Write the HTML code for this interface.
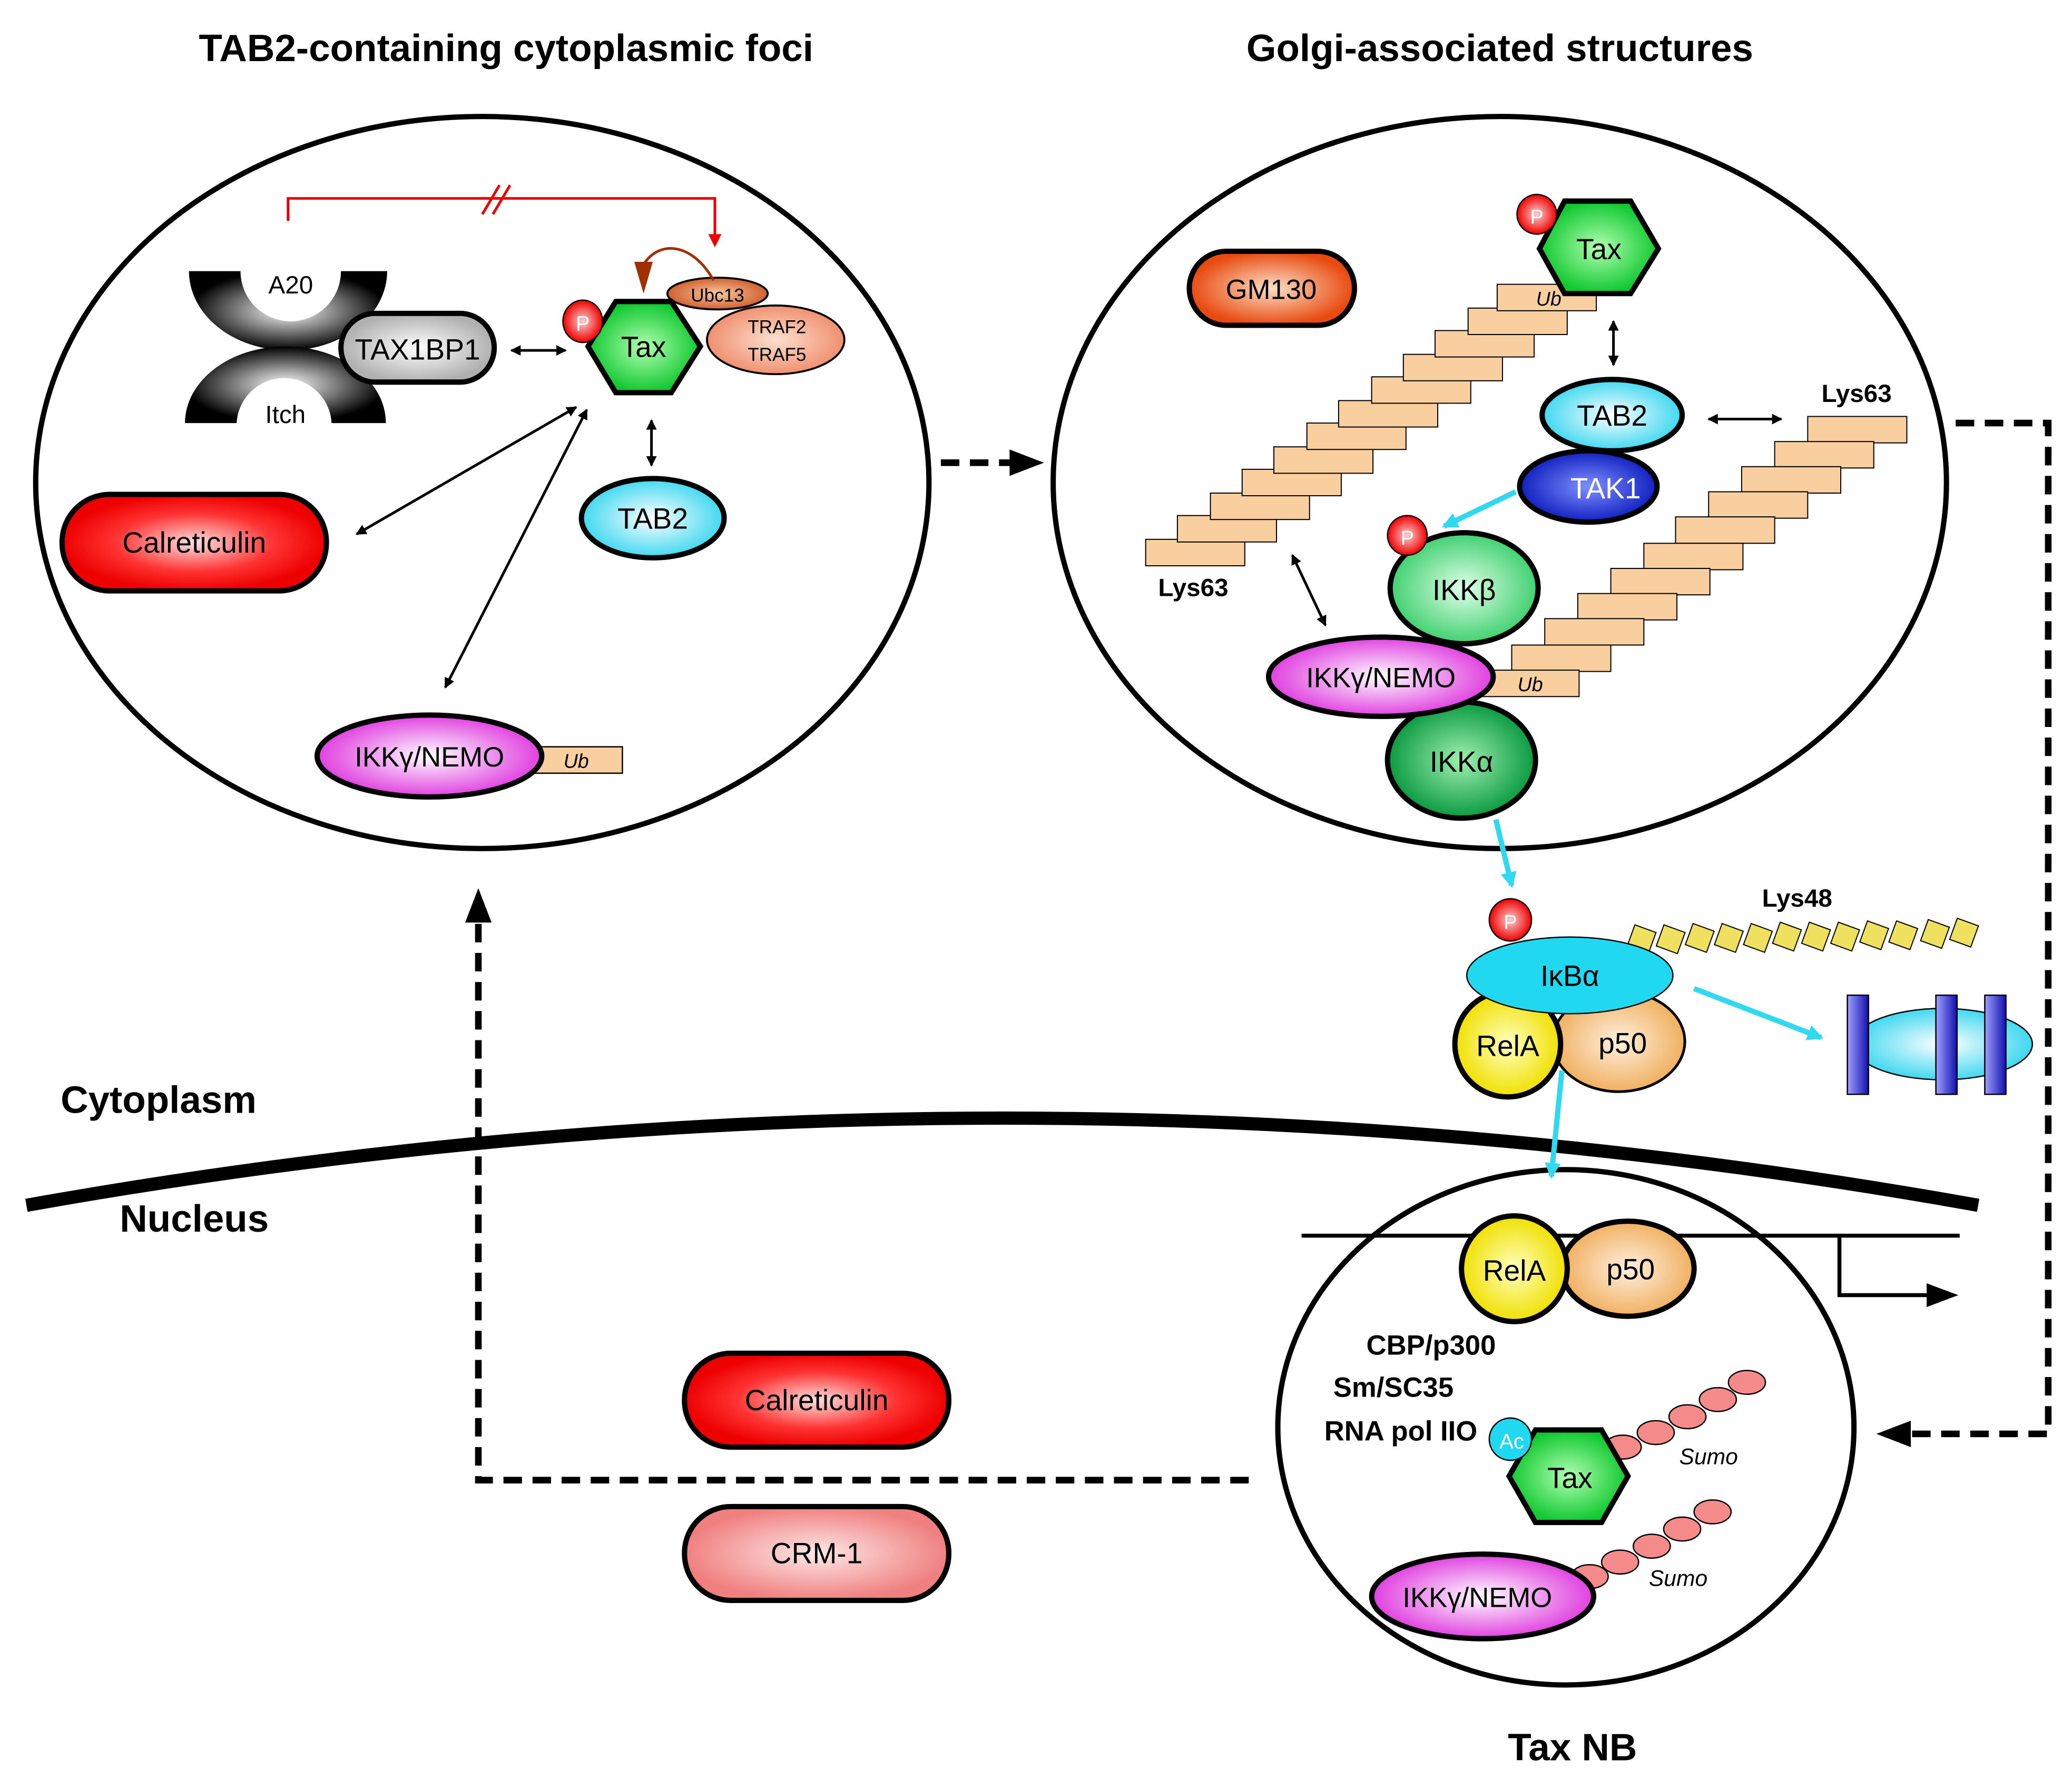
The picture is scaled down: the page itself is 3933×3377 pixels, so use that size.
<!DOCTYPE html>
<html><head><meta charset="utf-8"><style>html,body{margin:0;padding:0;background:#fff}svg{display:block}</style></head><body>
<svg width="3933" height="3377" viewBox="0 0 1568 1346" xmlns="http://www.w3.org/2000/svg" font-family="Liberation Sans, sans-serif">
<defs>
<radialGradient id="gRed"><stop offset="0" stop-color="#fde0e0"/><stop offset="0.6" stop-color="#f33"/><stop offset="1" stop-color="#e00"/></radialGradient>
<radialGradient id="gPink"><stop offset="0" stop-color="#fde8e8"/><stop offset="1" stop-color="#f08080"/></radialGradient>
<radialGradient id="gOr"><stop offset="0" stop-color="#fde0c8"/><stop offset="1" stop-color="#e84a10"/></radialGradient>
<radialGradient id="gGreen"><stop offset="0" stop-color="#b0ffb0"/><stop offset="1" stop-color="#10c830"/></radialGradient>
<radialGradient id="gLGreen"><stop offset="0" stop-color="#e0ffe8"/><stop offset="1" stop-color="#40d070"/></radialGradient>
<radialGradient id="gDGreen"><stop offset="0" stop-color="#a0f0b0"/><stop offset="1" stop-color="#0a9a40"/></radialGradient>
<radialGradient id="gCyan"><stop offset="0" stop-color="#fff"/><stop offset="1" stop-color="#40d8f0"/></radialGradient>
<radialGradient id="gBlue"><stop offset="0" stop-color="#8090ff"/><stop offset="1" stop-color="#1020c0"/></radialGradient>
<radialGradient id="gMag"><stop offset="0" stop-color="#fff"/><stop offset="1" stop-color="#e040e0"/></radialGradient>
<radialGradient id="gGray"><stop offset="0" stop-color="#fff"/><stop offset="1" stop-color="#b0b0b0"/></radialGradient>
<radialGradient id="gSal"><stop offset="0" stop-color="#fde0d0"/><stop offset="1" stop-color="#f09070"/></radialGradient>
<radialGradient id="gUbc"><stop offset="0" stop-color="#f8c8a0"/><stop offset="1" stop-color="#d06030"/></radialGradient>
<radialGradient id="gYel"><stop offset="0" stop-color="#ffffc0"/><stop offset="1" stop-color="#f0e000"/></radialGradient>
<radialGradient id="gP50"><stop offset="0" stop-color="#fff0e0"/><stop offset="1" stop-color="#f0b060"/></radialGradient>
<radialGradient id="gPh"><stop offset="0" stop-color="#ffd0d0"/><stop offset="1" stop-color="#e00"/></radialGradient>
<radialGradient id="gBW" cx="0.5" cy="0.5"><stop offset="0" stop-color="#fff"/><stop offset="1" stop-color="#000"/></radialGradient>
<linearGradient id="gBar" x1="0" x2="1"><stop offset="0" stop-color="#a0a0ff"/><stop offset="1" stop-color="#1010b0"/></linearGradient>
<marker id="ah" markerWidth="8" markerHeight="8" refX="7" refY="4" orient="auto-start-reverse" markerUnits="userSpaceOnUse"><path d="M0,0 L8,4 L0,8 Z" fill="#000"/></marker>
<marker id="ahc" markerWidth="12" markerHeight="12" refX="10" refY="6" orient="auto" markerUnits="userSpaceOnUse"><path d="M0,0 L12,6 L0,12 Z" fill="#30d8f0"/></marker>
<marker id="ahr" markerWidth="10" markerHeight="10" refX="8" refY="5" orient="auto" markerUnits="userSpaceOnUse"><path d="M0,0 L10,5 L0,10 Z" fill="#e00"/></marker>
</defs>

<g font-weight="bold" font-size="29" text-anchor="middle" fill="#000">
<text x="383" y="46">TAB2-containing cytoplasmic foci</text>
<text x="1135" y="46">Golgi-associated structures</text>
<text x="120" y="842">Cytoplasm</text>
<text x="147" y="932">Nucleus</text>
<text x="1190" y="1332">Tax NB</text>
</g>

<ellipse cx="365" cy="365" rx="338" ry="277" fill="none" stroke="#000" stroke-width="4"/>
<ellipse cx="1135" cy="365" rx="338" ry="277" fill="none" stroke="#000" stroke-width="4"/>
<path d="M20,912 Q760,780 1497,912" fill="none" stroke="#000" stroke-width="10"/>
<ellipse cx="1185" cy="1080" rx="218" ry="195" fill="none" stroke="#000" stroke-width="4"/>

<g stroke="#000" stroke-width="5" fill="none" stroke-dasharray="14,8">
<path d="M712,350 L770,350"/>
<path d="M1480,320 L1550,320 L1550,1085 L1440,1085"/>
<path d="M945,1120 L362,1120 L362,690"/>
</g>
<path d="M790,350 L764,340 L764,360Z"/>
<path d="M1420,1085 L1446,1075 L1446,1095Z"/>
<path d="M362,672 L352,698 L372,698Z"/>

<!-- LEFT ELLIPSE -->
<path d="M218,205 L218,150 L541,150 L541,185" fill="none" stroke="#e00" stroke-width="2" marker-end="url(#ahr)"/>
<path d="M365,162 L378,140 M373,162 L386,140" stroke="#e00" stroke-width="2"/>
<path d="M143,205 L293,205 A75,60 0 0 1 143,205 Z" fill="url(#gBW)"/>
<circle cx="220" cy="205" r="38" fill="#fff"/>
<rect x="140" y="190" width="160" height="15" fill="#fff"/>
<path d="M140,320 L292,320 A76,58 0 0 0 140,320 Z" fill="url(#gBW)"/>
<circle cx="215" cy="322" r="36" fill="#fff"/>
<rect x="130" y="322" width="170" height="15" fill="#fff"/>
<text x="220" y="222" font-size="19" text-anchor="middle">A20</text>
<text x="216" y="320" font-size="19" text-anchor="middle">Itch</text>
<rect x="258" y="237" width="116" height="52" rx="26" fill="url(#gGray)" stroke="#000" stroke-width="4"/>
<text x="316" y="272" font-size="22" text-anchor="middle">TAX1BP1</text>
<line x1="387" y1="265" x2="428" y2="265" stroke="#000" stroke-width="2" marker-start="url(#ah)" marker-end="url(#ah)"/>
<ellipse cx="587" cy="257" rx="52" ry="26" fill="url(#gSal)" stroke="#000" stroke-width="1.5"/>
<text x="588" y="252" font-size="14" text-anchor="middle">TRAF2</text>
<text x="588" y="273" font-size="14" text-anchor="middle">TRAF5</text>
<ellipse cx="543" cy="222" rx="38" ry="12" fill="url(#gUbc)" stroke="#000" stroke-width="1.5"/>
<text x="543" y="228" font-size="14" text-anchor="middle">Ubc13</text>
<path d="M540,212 C525,185 500,180 487,200" fill="none" stroke="#a03000" stroke-width="2"/>
<path d="M480,198 L494,198 L487,222Z" fill="#a03000"/>
<polygon points="445,262 466,228 508,228 530,262 508,297 466,297" fill="url(#gGreen)" stroke="#000" stroke-width="4"/>
<text x="487" y="270" font-size="22" text-anchor="middle">Tax</text>
<ellipse cx="441" cy="243" rx="15" ry="16" fill="url(#gPh)" stroke="#000" stroke-width="1"/>
<text x="441" y="250" font-size="16" fill="#fff" text-anchor="middle">P</text>
<line x1="493" y1="318" x2="493" y2="352" stroke="#000" stroke-width="2" marker-start="url(#ah)" marker-end="url(#ah)"/>
<ellipse cx="494" cy="392" rx="54" ry="30" fill="url(#gCyan)" stroke="#000" stroke-width="4"/>
<text x="494" y="400" font-size="22" text-anchor="middle">TAB2</text>
<line x1="270" y1="404" x2="436" y2="308" stroke="#000" stroke-width="2" marker-start="url(#ah)" marker-end="url(#ah)"/>
<line x1="337" y1="520" x2="444" y2="310" stroke="#000" stroke-width="2" marker-start="url(#ah)" marker-end="url(#ah)"/>
<rect x="47" y="374" width="200" height="73" rx="36" fill="url(#gRed)" stroke="#000" stroke-width="4"/>
<text x="147" y="418" font-size="22" text-anchor="middle">Calreticulin</text>
<rect x="397" y="565" width="74" height="20" fill="#f9cfa0" stroke="#000" stroke-width="1"/>
<text x="436" y="581" font-size="15" font-style="italic" text-anchor="middle">Ub</text>
<ellipse cx="325" cy="572" rx="85" ry="31" fill="url(#gMag)" stroke="#000" stroke-width="4"/>
<text x="325" y="580" font-size="21" text-anchor="middle">IKKγ/NEMO</text>

<!-- RIGHT ELLIPSE -->
<rect x="900" y="190" width="125" height="56" rx="28" fill="url(#gOr)" stroke="#000" stroke-width="4"/>
<text x="962" y="226" font-size="21" text-anchor="middle">GM130</text>
<g fill="#f9cfa0" stroke="#000" stroke-width="0.8">
<rect x="867" y="408" width="75" height="20"/><rect x="891" y="390" width="75" height="20"/><rect x="916" y="373" width="75" height="20"/><rect x="940" y="355" width="75" height="20"/><rect x="964" y="338" width="75" height="20"/><rect x="989" y="320" width="75" height="20"/><rect x="1013" y="303" width="75" height="20"/><rect x="1038" y="285" width="75" height="20"/><rect x="1062" y="268" width="75" height="20"/><rect x="1086" y="250" width="75" height="20"/><rect x="1111" y="233" width="75" height="20"/><rect x="1133" y="215" width="75" height="20"/>
<rect x="1368" y="315" width="75" height="20"/><rect x="1343" y="334" width="75" height="20"/><rect x="1318" y="353" width="75" height="20"/><rect x="1293" y="372" width="75" height="20"/><rect x="1268" y="391" width="75" height="20"/><rect x="1244" y="411" width="75" height="20"/><rect x="1219" y="430" width="75" height="20"/><rect x="1194" y="449" width="75" height="20"/><rect x="1169" y="468" width="75" height="20"/><rect x="1144" y="488" width="75" height="20"/><rect x="1120" y="507" width="75" height="20"/>
</g>
<text x="1172" y="231" font-size="15" font-style="italic" text-anchor="middle">Ub</text>
<polygon points="1165,188 1184,152 1234,152 1255,188 1234,222 1184,222" fill="url(#gGreen)" stroke="#000" stroke-width="4"/>
<text x="1210" y="196" font-size="22" text-anchor="middle">Tax</text>
<circle cx="1163" cy="162" r="15" fill="url(#gPh)" stroke="#000" stroke-width="1"/>
<text x="1163" y="169" font-size="15" fill="#fff" text-anchor="middle">P</text>
<line x1="1221" y1="243" x2="1221" y2="276" stroke="#000" stroke-width="2" marker-start="url(#ah)" marker-end="url(#ah)"/>
<ellipse cx="1202" cy="368" rx="52" ry="27" fill="url(#gBlue)" stroke="#000" stroke-width="4"/>
<text x="1215" y="377" font-size="22" fill="#fff" text-anchor="middle">TAK1</text>
<ellipse cx="1220" cy="314" rx="53" ry="27" fill="url(#gCyan)" stroke="#000" stroke-width="4"/>
<text x="1220" y="322" font-size="22" text-anchor="middle">TAB2</text>
<line x1="1293" y1="317" x2="1348" y2="317" stroke="#000" stroke-width="2" marker-start="url(#ah)" marker-end="url(#ah)"/>
<text x="1405" y="304" font-size="19" font-weight="bold" text-anchor="middle">Lys63</text>
<text x="903" y="451" font-size="19" font-weight="bold" text-anchor="middle">Lys63</text>
<line x1="1147" y1="372" x2="1093" y2="398" stroke="#30d8f0" stroke-width="4" marker-end="url(#ahc)"/>
<line x1="978" y1="420" x2="1003" y2="473" stroke="#000" stroke-width="2" marker-start="url(#ah)" marker-end="url(#ah)"/>
<ellipse cx="1108" cy="445" rx="56" ry="42" fill="url(#gLGreen)" stroke="#000" stroke-width="4"/>
<text x="1108" y="454" font-size="22" text-anchor="middle">IKKβ</text>
<circle cx="1065" cy="405" r="15" fill="url(#gPh)" stroke="#000" stroke-width="1"/>
<text x="1065" y="412" font-size="15" fill="#fff" text-anchor="middle">P</text>
<ellipse cx="1106" cy="575" rx="56" ry="44" fill="url(#gDGreen)" stroke="#000" stroke-width="4"/>
<text x="1106" y="584" font-size="22" text-anchor="middle">IKKα</text>
<ellipse cx="1045" cy="512" rx="85" ry="30" fill="url(#gMag)" stroke="#000" stroke-width="4"/>
<text x="1045" y="520" font-size="21" text-anchor="middle">IKKγ/NEMO</text>
<text x="1158" y="523" font-size="15" font-style="italic" text-anchor="middle">Ub</text>
<line x1="1132" y1="620" x2="1144" y2="670" stroke="#30d8f0" stroke-width="4" marker-end="url(#ahc)"/>

<g fill="#f0e060" stroke="#000" stroke-width="0.8">
<rect x="1234" y="702" width="17" height="17" transform="rotate(20 1242 710)"/><rect x="1256" y="702" width="17" height="17" transform="rotate(20 1264 710)"/><rect x="1278" y="701" width="17" height="17" transform="rotate(20 1286 709)"/><rect x="1300" y="701" width="17" height="17" transform="rotate(20 1308 709)"/><rect x="1322" y="701" width="17" height="17" transform="rotate(20 1330 709)"/><rect x="1344" y="700" width="17" height="17" transform="rotate(20 1352 708)"/><rect x="1366" y="700" width="17" height="17" transform="rotate(20 1374 708)"/><rect x="1388" y="700" width="17" height="17" transform="rotate(20 1396 708)"/><rect x="1410" y="699" width="17" height="17" transform="rotate(20 1418 707)"/><rect x="1432" y="699" width="17" height="17" transform="rotate(20 1440 707)"/><rect x="1456" y="698" width="17" height="17" transform="rotate(20 1464 706)"/><rect x="1478" y="697" width="17" height="17" transform="rotate(20 1486 705)"/>
</g>
<text x="1360" y="686" font-size="19" font-weight="bold" text-anchor="middle">Lys48</text>
<ellipse cx="1225" cy="788" rx="50" ry="38" fill="url(#gP50)" stroke="#000" stroke-width="2"/>
<text x="1228" y="797" font-size="22" text-anchor="middle">p50</text>
<circle cx="1141" cy="790" r="40" fill="url(#gYel)" stroke="#000" stroke-width="4"/>
<text x="1141" y="799" font-size="22" text-anchor="middle">RelA</text>
<ellipse cx="1188" cy="738" rx="78" ry="29" fill="#20d8f0" stroke="#000" stroke-width="1"/>
<text x="1188" y="746" font-size="22" text-anchor="middle">IκBα</text>
<circle cx="1143" cy="696" r="16" fill="url(#gPh)" stroke="#000" stroke-width="1"/>
<text x="1143" y="703" font-size="15" fill="#fff" text-anchor="middle">P</text>
<line x1="1282" y1="748" x2="1378" y2="785" stroke="#30d8f0" stroke-width="4" marker-end="url(#ahc)"/>
<ellipse cx="1470" cy="790" rx="68" ry="27" fill="url(#gCyan)" stroke="#000" stroke-width="1"/>
<rect x="1398" y="753" width="16" height="75" fill="url(#gBar)" stroke="#000" stroke-width="1"/>
<rect x="1465" y="753" width="16" height="75" fill="url(#gBar)" stroke="#000" stroke-width="1"/>
<rect x="1502" y="753" width="16" height="75" fill="url(#gBar)" stroke="#000" stroke-width="1"/>
<line x1="1182" y1="810" x2="1174" y2="890" stroke="#30d8f0" stroke-width="4" marker-end="url(#ahc)"/>

<line x1="985" y1="935" x2="1483" y2="935" stroke="#000" stroke-width="3"/>
<path d="M1392,935 L1392,980 L1462,980" fill="none" stroke="#000" stroke-width="3"/>
<path d="M1482,980 L1458,971 L1458,989Z"/>
<ellipse cx="1232" cy="960" rx="50" ry="36" fill="url(#gP50)" stroke="#000" stroke-width="4"/>
<text x="1234" y="968" font-size="22" text-anchor="middle">p50</text>
<circle cx="1146" cy="960" r="40" fill="url(#gYel)" stroke="#000" stroke-width="4"/>
<text x="1146" y="969" font-size="22" text-anchor="middle">RelA</text>
<g font-size="21" font-weight="bold" text-anchor="end">
<text x="1132" y="1025">CBP/p300</text>
<text x="1100" y="1057">Sm/SC35</text>
<text x="1118" y="1090">RNA pol IIO</text>
</g>
<g fill="#f48a8a" stroke="#000" stroke-width="1">
<ellipse cx="1228" cy="1095" rx="14" ry="9"/><ellipse cx="1253" cy="1084" rx="14" ry="9"/><ellipse cx="1277" cy="1072" rx="14" ry="9"/><ellipse cx="1300" cy="1059" rx="14" ry="9"/><ellipse cx="1322" cy="1046" rx="14" ry="9"/>
<ellipse cx="1203" cy="1193" rx="14" ry="9"/><ellipse cx="1226" cy="1182" rx="14" ry="9"/><ellipse cx="1250" cy="1170" rx="14" ry="9"/><ellipse cx="1273" cy="1157" rx="14" ry="9"/><ellipse cx="1296" cy="1144" rx="14" ry="9"/>
</g>
<text x="1293" y="1108" font-size="17" font-style="italic" text-anchor="middle">Sumo</text>
<text x="1270" y="1200" font-size="17" font-style="italic" text-anchor="middle">Sumo</text>
<polygon points="1142,1117 1162,1082 1212,1082 1232,1117 1212,1152 1162,1152" fill="url(#gGreen)" stroke="#000" stroke-width="4"/>
<text x="1188" y="1126" font-size="22" text-anchor="middle">Tax</text>
<circle cx="1143" cy="1089" r="16" fill="#20d8f0" stroke="#000" stroke-width="1"/>
<text x="1144" y="1096" font-size="16" fill="#fff" text-anchor="middle">Ac</text>
<ellipse cx="1122" cy="1208" rx="84" ry="32" fill="url(#gMag)" stroke="#000" stroke-width="4"/>
<text x="1118" y="1216" font-size="21" text-anchor="middle">IKKγ/NEMO</text>
<rect x="518" y="1024" width="200" height="71" rx="35" fill="url(#gRed)" stroke="#000" stroke-width="4"/>
<text x="618" y="1067" font-size="22" text-anchor="middle">Calreticulin</text>
<rect x="518" y="1140" width="200" height="71" rx="35" fill="url(#gPink)" stroke="#000" stroke-width="4"/>
<text x="618" y="1183" font-size="22" text-anchor="middle">CRM-1</text>
</svg>
</body></html>
